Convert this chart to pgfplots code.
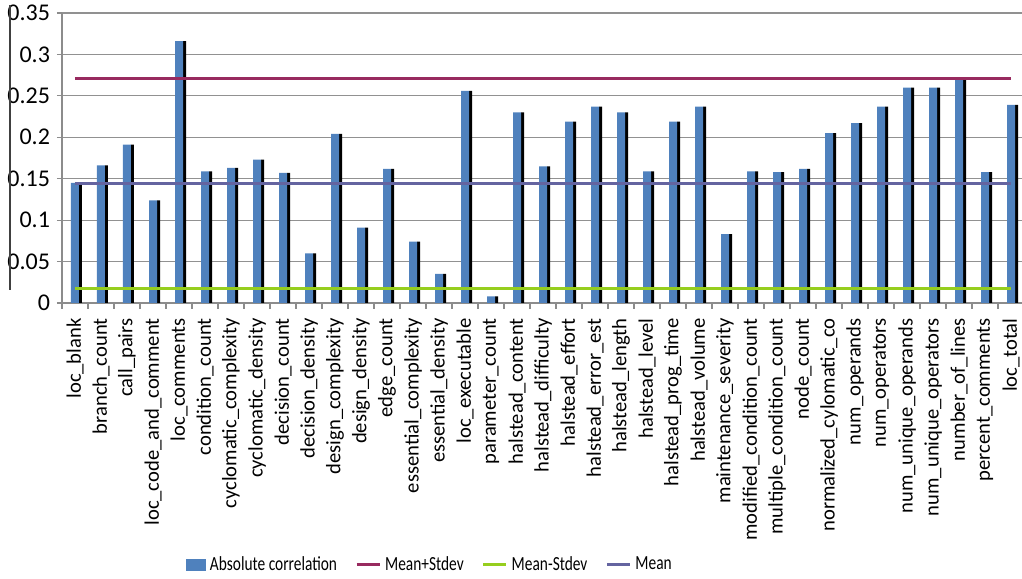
\documentclass[border=0pt]{standalone}
\usepackage{pgfplots}
\pgfplotsset{compat=1.18}
\usepackage{pgfplotstable}
\usepackage{fontspec}
\setmainfont{Carlito}
\newfontfamily\legfont[FakeStretch=0.77]{Carlito}
\definecolor{barblue}{RGB}{79,129,189}
\definecolor{meanplus}{RGB}{152,42,95}
\definecolor{meanminus}{RGB}{150,206,30}
\definecolor{meanc}{RGB}{100,100,160}
\definecolor{gridgray}{RGB}{145,145,145}
\definecolor{axisgray}{RGB}{140,140,140}

\pgfplotstableread{
x v
0 0.145
1 0.166
2 0.191
3 0.124
4 0.316
5 0.159
6 0.163
7 0.173
8 0.157
9 0.060
10 0.204
11 0.091
12 0.162
13 0.074
14 0.035
15 0.256
16 0.008
17 0.230
18 0.165
19 0.219
20 0.237
21 0.230
22 0.159
23 0.219
24 0.237
25 0.083
26 0.159
27 0.158
28 0.162
29 0.205
30 0.217
31 0.237
32 0.260
33 0.260
34 0.270
35 0.158
36 0.239
}\data

\begin{document}
\begin{tikzpicture}
\begin{axis}[
  scale only axis, width=480pt, height=145pt,
  xmin=-0.5, xmax=36.42, ymin=0, ymax=0.35,
  clip=false,
  axis x line*=bottom, axis y line*=left,
  axis line style={draw=axisgray, line width=0.6pt, -},
  xtick={0,...,36},
  xticklabels={loc\_blank, branch\_count, call\_pairs, loc\_code\_and\_comment, loc\_comments, condition\_count, cyclomatic\_complexity, cyclomatic\_density, decision\_count, decision\_density, design\_complexity, design\_density, edge\_count, essential\_complexity, essential\_density, loc\_executable, parameter\_count, halstead\_content, halstead\_difficulty, halstead\_effort, halstead\_error\_est, halstead\_length, halstead\_level, halstead\_prog\_time, halstead\_volume, maintenance\_severity, modified\_condition\_count, multiple\_condition\_count, node\_count, normalized\_cylomatic\_co, num\_operands, num\_operators, num\_unique\_operands, num\_unique\_operators, number\_of\_lines, percent\_comments, loc\_total},
  x tick style={draw=none},
  minor xtick={-0.5,0.5,...,35.5},
  minor x tick style={draw=axisgray, line width=0.6pt},
  minor tick length=3pt,
  ytick={0,0.05,0.1,0.15,0.2,0.25,0.3,0.35},
  y tick style={draw=axisgray, line width=0.6pt},
  major tick length=2.5pt,
  tick align=outside,
  ymajorgrids,
  grid style={draw=gridgray, line width=0.6pt},
  yticklabel style={font=\fontsize{12}{14}\selectfont, /pgf/number format/fixed, /pgf/number format/precision=2, /pgf/number format/assume math mode=true},
  xticklabel style={font=\fontsize{10.3}{12}\selectfont, rotate=90, anchor=east, inner sep=2pt},
  xticklabel shift=3pt,
  legend columns=4,
  legend style={at={(0.383,-0.903)}, anchor=center, draw=none, fill=none,
    font=\fontsize{10}{12}\legfont, inner sep=0pt,
    nodes={inner sep=0.8pt},
    /tikz/every even column/.append style={column sep=8.2pt},
    /tikz/every odd column/.append style={column sep=1.2pt}},
]
\addplot[ybar, bar width=1.5pt, bar shift=2.75pt, fill=black, draw=none, forget plot] table[x=x, y=v] {\data};
\addplot[ybar, bar width=4pt, bar shift=0pt, fill=barblue, draw=none,
  legend image code/.code={\fill[barblue] (0pt,-3pt) rectangle (10pt,3pt);}] table[x=x, y=v] {\data};
\addlegendentry{Absolute correlation}
\addplot[meanplus, line width=1.5pt, no marks,
  legend image code/.code={\draw[meanplus, line width=1.5pt] (0pt,0pt) -- (11.5pt,0pt);}] coordinates {(0,0.2712) (36,0.2712)};
\addlegendentry{Mean+Stdev}
\addplot[meanminus, line width=1.5pt, no marks,
  legend image code/.code={\draw[meanminus, line width=1.5pt] (0pt,0pt) -- (11.5pt,0pt);}] coordinates {(0,0.0173) (36,0.0173)};
\addlegendentry{Mean-Stdev}
\addplot[meanc, line width=1.5pt, no marks,
  legend image code/.code={\draw[meanc, line width=1.5pt] (0pt,0pt) -- (11.5pt,0pt);}] coordinates {(0,0.1445) (36,0.1445)};
\addlegendentry{Mean}
\draw[black!75, line width=0.6pt] (axis cs:-2.5,0.0157) -- (axis cs:-2.5,0.3597);
\coordinate (bbll) at (rel axis cs:-0.06458,-0.95172);
\coordinate (bbur) at (rel axis cs:1,1.04483);
\end{axis}
\pgfresetboundingbox
\useasboundingbox (bbll) rectangle (bbur);
\end{tikzpicture}
\end{document}
